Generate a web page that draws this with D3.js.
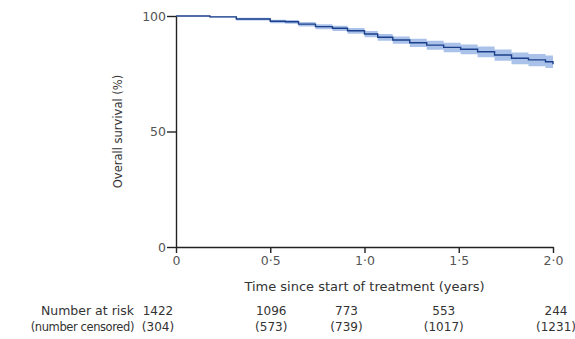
<!DOCTYPE html>
<html>
<head>
<meta charset="utf-8">
<script src="https://cdn.jsdelivr.net/npm/d3@7"></script>
<style>
    body { margin: 0; background: #fff; }
    svg text { font-family: "DejaVu Sans", sans-serif; fill: #333; }
</style>
</head>
<body>
<div id="chart"></div>
<script>
'use strict';

// Kaplan-Meier estimate (years, % surviving)
const times    = [0, 0.18, 0.32, 0.50, 0.58, 0.65, 0.74, 0.83, 0.91, 1.00, 1.07, 1.15, 1.24, 1.33, 1.42, 1.51, 1.60, 1.69, 1.78, 1.87, 1.96, 2.00];
const survival = [100, 99.6, 98.7, 97.7, 97.5, 96.5, 95.4, 94.7, 93.6, 92.2, 90.8, 89.6, 88.4, 87.4, 86.4, 85.6, 84.5, 83.1, 81.7, 81.0, 80.2, 79.1];
const ciLower  = [100, 99.3, 98.1, 96.9, 96.6, 95.5, 94.3, 93.5, 92.3, 90.8, 89.3, 88.0, 86.6, 85.4, 84.3, 83.4, 82.1, 80.6, 79.1, 78.3, 77.5, 76.4];
const ciUpper  = [100, 99.9, 99.2, 98.4, 98.3, 97.4, 96.4, 95.8, 94.8, 93.5, 92.2, 91.1, 90.1, 89.3, 88.4, 87.7, 86.8, 85.5, 84.2, 83.6, 82.9, 81.7];

const xTicks = [0, 0.5, 1.0, 1.5, 2.0];
const yTicks = [0, 50, 100];
const atRisk   = [1422, 1096, 773, 553, 244];
const censored = [304, 573, 739, 1017, 1231];

const W = 575, H = 339;
const margin = {top: 16, right: 22, bottom: 92, left: 176};

let svg = d3.select("#chart").append("svg")
    .attr("width", W)
    .attr("height", H);

let x = d3.scaleLinear().domain([0, 2]).range([margin.left, W - margin.right]);
let y = d3.scaleLinear().domain([0, 100]).range([H - margin.bottom, margin.top]);

let pts = times.map((t, i) => ({t: t, s: survival[i], lo: ciLower[i], hi: ciUpper[i]}));

// confidence band
let band = d3.area()
    .x(d => x(d.t))
    .y0(d => y(d.lo))
    .y1(d => y(d.hi))
    .curve(d3.curveStepAfter);

svg.append("path")
    .datum(pts)
    .attr("d", band)
    .attr("fill", "#8eaee2")
    .attr("opacity", 0.75);

// survival line
let line = d3.line()
    .x(d => x(d.t))
    .y(d => y(d.s))
    .curve(d3.curveStepAfter);

svg.append("path")
    .datum(pts)
    .attr("d", line)
    .attr("fill", "none")
    .attr("stroke", "#1b3f8a")
    .attr("stroke-width", 1.4);

// axes
let fmt = d => d === 0 ? "0" : d3.format(".1f")(d).replace(".", "\u00b7");

let xAxis = svg.append("g")
    .attr("transform", "translate(0," + y(0) + ")")
    .call(d3.axisBottom(x).tickValues(xTicks).tickFormat(fmt).tickSize(6).tickPadding(3).tickSizeOuter(0));

let yAxis = svg.append("g")
    .attr("transform", "translate(" + x(0) + ",0)")
    .call(d3.axisLeft(y).tickValues(yTicks).tickSize(9).tickPadding(1).tickSizeOuter(0));

[xAxis, yAxis].forEach(g => {
    g.select(".domain").attr("stroke", "#222").attr("stroke-width", 1.4);
    g.selectAll(".tick line").attr("stroke", "#222").attr("stroke-width", 1.4);
    g.selectAll(".tick text").style("font-size", "12.5px").style("fill", "#555");
});

// axis titles
svg.append("text")
    .attr("x", (x(0) + x(2)) / 2)
    .attr("y", 291)
    .attr("text-anchor", "middle")
    .style("font-size", "13px")
    .text("Time since start of treatment (years)");

svg.append("text")
    .attr("transform", "translate(122," + y(50) + ") rotate(-90)")
    .attr("text-anchor", "middle")
    .style("font-size", "11.5px")
    .text("Overall survival (%)");

// number at risk table
let rowY = [315, 331];
svg.append("text")
    .attr("x", 134).attr("y", rowY[0])
    .attr("text-anchor", "end")
    .style("font-size", "12.5px")
    .text("Number at risk");
svg.append("text")
    .attr("x", 134).attr("y", rowY[1])
    .attr("text-anchor", "end")
    .style("font-size", "11.5px")
    .style("letter-spacing", "-0.4px")
    .text("(number censored)");

let colShift = [-18, 1, -18, -15, 3];

xTicks.forEach((t, i) => {
    svg.append("text")
        .attr("x", x(t) + colShift[i]).attr("y", rowY[0])
        .attr("text-anchor", "middle")
        .style("font-size", "12px")
        .text(atRisk[i]);
    svg.append("text")
        .attr("x", x(t) + colShift[i]).attr("y", rowY[1])
        .attr("text-anchor", "middle")
        .style("font-size", "12px")
        .text("(" + censored[i] + ")");
});
</script>
</body>
</html>
